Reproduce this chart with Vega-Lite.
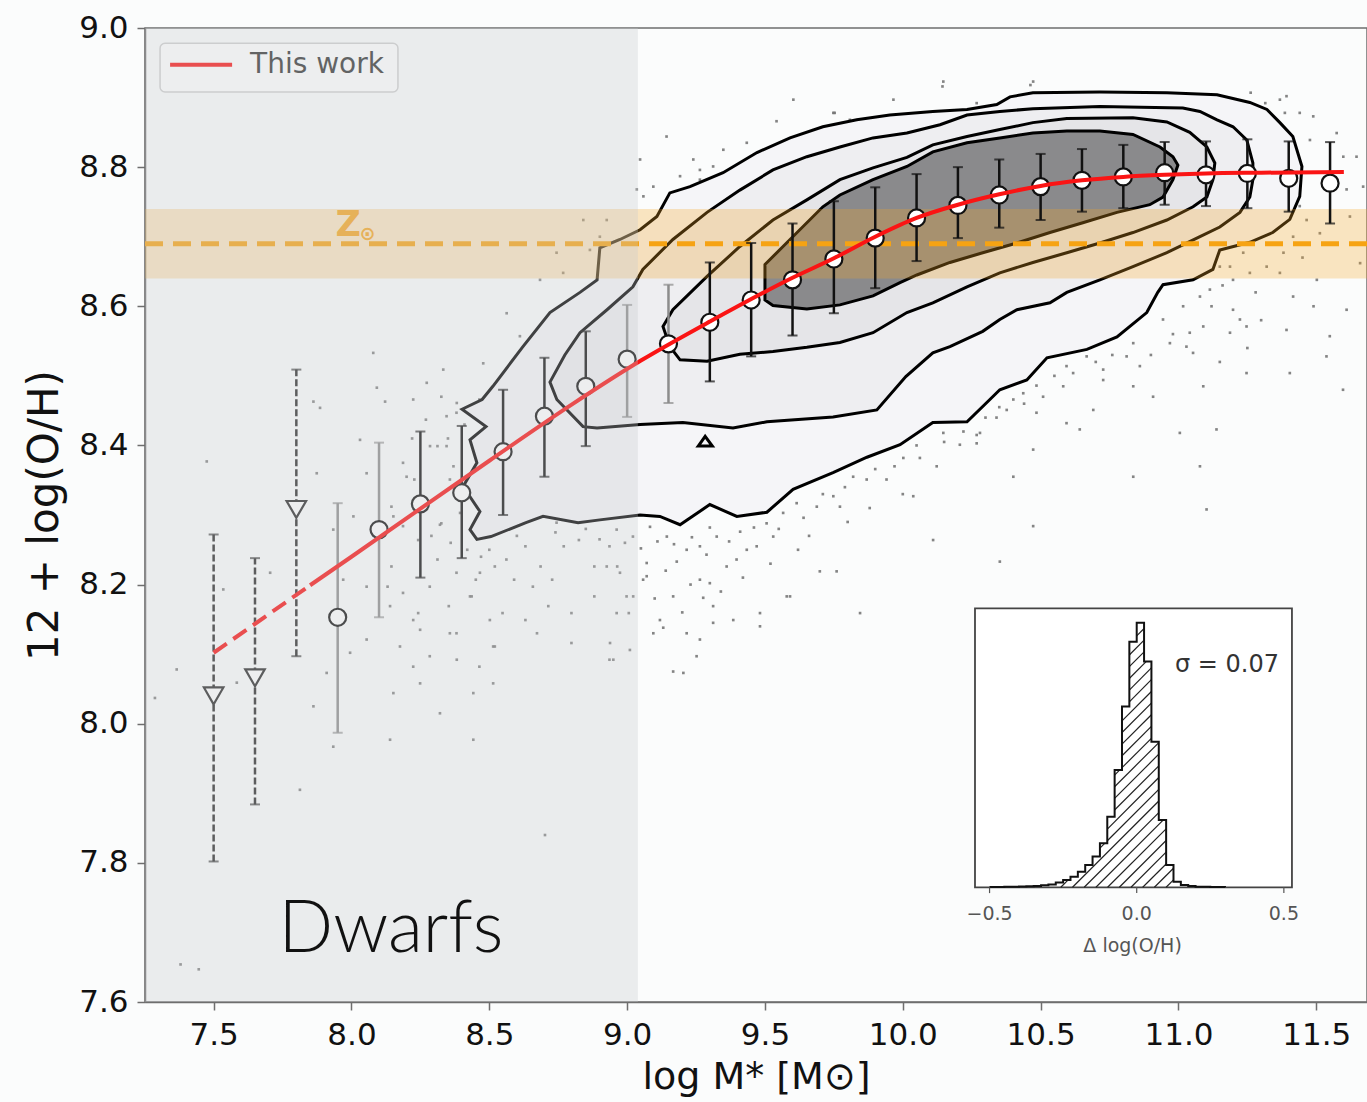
{
"$schema": "https://vega.github.io/schema/vega-lite/v6.json",
"width": 1222, "height": 974,
"autosize": {"type": "none"},
"padding": {"left": 145, "top": 28, "right": 0, "bottom": 100},
"background": "#fbfcfc",
"config": {
 "view": {"stroke": "#6e6e6e", "strokeWidth": 1.5},
 "axis": {"grid": false, "domainColor": "#6e6e6e", "domainWidth": 1.5, "tickColor": "#6e6e6e", "tickWidth": 1.5, "tickSize": 8, "labelFont": "DejaVu Sans", "labelFontSize": 31, "labelColor": "#111", "titleFont": "DejaVu Sans", "titleColor": "#111", "titleFontWeight": "normal"},
 "axisX": {"labelPadding": 10, "titleFontSize": 38, "titlePadding": 8},
 "axisY": {"labelPadding": 9, "titleFontSize": 42, "titlePadding": 12},
 "text": {"font": "DejaVu Sans"}
},
"datasets": {
 "dots": [
{"x":8.962,"y":8.279},{"x":9.021,"y":8.269},{"x":9.083,"y":8.283},{"x":9.144,"y":8.269},{"x":9.180,"y":8.233},{"x":9.216,"y":8.250},{"x":9.264,"y":8.255},{"x":9.288,"y":8.243},{"x":9.325,"y":8.269},{"x":9.361,"y":8.226},{"x":9.397,"y":8.236},{"x":9.434,"y":8.250},{"x":9.470,"y":8.255},{"x":9.506,"y":8.288},{"x":9.530,"y":8.269},{"x":9.566,"y":8.303},{"x":9.615,"y":8.317},{"x":9.688,"y":8.312},{"x":9.748,"y":8.327},{"x":9.772,"y":8.312},{"x":9.820,"y":8.355},{"x":9.869,"y":8.351},{"x":9.941,"y":8.351},{"x":10.002,"y":8.382},{"x":10.062,"y":8.382},{"x":10.123,"y":8.370},{"x":10.207,"y":8.401},{"x":10.268,"y":8.415},{"x":10.401,"y":8.466},{"x":10.110,"y":8.264},{"x":10.352,"y":8.233},{"x":9.699,"y":8.219},{"x":9.760,"y":8.219},{"x":9.591,"y":8.183},{"x":9.264,"y":8.207},{"x":9.300,"y":8.202},{"x":9.167,"y":8.183},{"x":9.276,"y":8.181},{"x":9.312,"y":8.169},{"x":9.385,"y":8.149},{"x":9.482,"y":8.159},{"x":9.482,"y":8.140},{"x":9.119,"y":8.149},{"x":9.131,"y":8.138},{"x":9.095,"y":8.130},{"x":9.216,"y":8.130},{"x":9.264,"y":8.121},{"x":9.312,"y":8.145},{"x":9.252,"y":8.097},{"x":9.204,"y":8.073},{"x":9.167,"y":8.075},{"x":9.845,"y":8.159},{"x":9.579,"y":8.183},{"x":9.022,"y":8.183},{"x":9.058,"y":8.207},{"x":9.071,"y":8.231},{"x":9.071,"y":8.212},{"x":8.926,"y":8.226},{"x":8.974,"y":8.217},{"x":8.998,"y":8.183},{"x":8.962,"y":8.159},{"x":9.010,"y":8.106},{"x":8.938,"y":8.116},{"x":8.950,"y":8.092},
{"x":9.05,"y":8.252},{"x":9.11,"y":8.262},{"x":9.17,"y":8.258},{"x":9.235,"y":8.268},{"x":9.30,"y":8.282},{"x":9.37,"y":8.262},{"x":9.41,"y":8.276},{"x":9.46,"y":8.282},{"x":9.55,"y":8.28},{"x":9.64,"y":8.296},{"x":9.71,"y":8.33},{"x":9.79,"y":8.34},{"x":9.90,"y":8.366},{"x":9.97,"y":8.37},{"x":10.05,"y":8.40},{"x":10.15,"y":8.405},{"x":10.30,"y":8.44},{"x":10.35,"y":8.455},{"x":9.14,"y":8.22},{"x":9.23,"y":8.2},{"x":9.34,"y":8.19},{"x":9.42,"y":8.21},{"x":9.52,"y":8.23},{"x":9.62,"y":8.25},{"x":9.66,"y":8.27},{"x":9.80,"y":8.29},{"x":9.88,"y":8.31},{"x":10.0,"y":8.33},{"x":9.1,"y":8.18},{"x":9.2,"y":8.16},
{"x":8.562,"y":8.236},{"x":8.631,"y":8.255},{"x":8.686,"y":8.226},{"x":8.770,"y":8.255},{"x":8.825,"y":8.264},{"x":8.881,"y":8.226},{"x":8.936,"y":8.255},{"x":8.992,"y":8.260},{"x":8.964,"y":8.226},{"x":8.728,"y":8.207},{"x":8.658,"y":8.197},{"x":8.590,"y":8.207},{"x":8.520,"y":8.226},{"x":8.451,"y":8.207},{"x":8.381,"y":8.217},{"x":8.312,"y":8.236},{"x":8.242,"y":8.264},{"x":8.284,"y":8.197},{"x":8.353,"y":8.169},{"x":8.436,"y":8.183},{"x":8.548,"y":8.159},{"x":8.631,"y":8.149},{"x":8.714,"y":8.169},{"x":8.798,"y":8.159},{"x":8.881,"y":8.183},{"x":9.006,"y":8.159},{"x":8.242,"y":8.159},{"x":8.187,"y":8.188},{"x":8.145,"y":8.226},{"x":8.131,"y":8.197},{"x":8.381,"y":8.130},{"x":8.520,"y":8.111},{"x":8.673,"y":8.130},{"x":8.798,"y":8.116},{"x":8.936,"y":8.092},{"x":8.464,"y":8.082},{"x":8.284,"y":8.097},{"x":8.326,"y":8.288},{"x":8.187,"y":8.284},{"x":8.145,"y":8.312},{"x":8.228,"y":8.351},{"x":8.187,"y":8.375},{"x":8.312,"y":8.399},{"x":8.270,"y":8.437},{"x":8.381,"y":8.447},{"x":8.464,"y":8.466},{"x":8.326,"y":8.470},
{"x":8.50,"y":8.25},{"x":8.60,"y":8.27},{"x":8.74,"y":8.275},{"x":8.85,"y":8.28},{"x":8.90,"y":8.265},{"x":8.42,"y":8.25},{"x":8.47,"y":8.24},{"x":8.36,"y":8.26},{"x":8.29,"y":8.27},{"x":8.40,"y":8.32},{"x":8.37,"y":8.37},{"x":8.35,"y":8.41},{"x":8.41,"y":8.43},{"x":8.27,"y":8.31},{"x":8.22,"y":8.41},
{"x":8.079,"y":8.533},{"x":7.862,"y":8.463},{"x":7.886,"y":8.454},{"x":7.475,"y":8.377},{"x":8.092,"y":8.483},{"x":8.122,"y":8.463},{"x":8.031,"y":8.408},{"x":8.224,"y":8.466},{"x":8.273,"y":8.490},{"x":8.333,"y":8.509},{"x":8.382,"y":8.461},{"x":8.285,"y":8.399},{"x":8.200,"y":8.355},{"x":8.152,"y":8.298},{"x":8.321,"y":8.286},{"x":8.055,"y":8.360},{"x":7.874,"y":8.360},{"x":8.007,"y":8.298},{"x":7.934,"y":8.279},{"x":7.970,"y":8.207},{"x":8.055,"y":8.197},{"x":8.140,"y":8.169},{"x":8.224,"y":8.149},{"x":8.249,"y":8.135},{"x":8.357,"y":8.130},{"x":8.176,"y":8.111},{"x":8.055,"y":8.121},{"x":7.995,"y":8.102},{"x":7.910,"y":8.073},{"x":7.705,"y":8.217},{"x":7.535,"y":8.193},{"x":7.584,"y":8.059},{"x":7.366,"y":8.078},{"x":7.287,"y":8.037},{"x":7.862,"y":8.025},{"x":7.934,"y":7.967},{"x":8.152,"y":8.044},{"x":8.249,"y":8.058},{"x":8.321,"y":8.015},{"x":8.442,"y":8.044},{"x":8.514,"y":8.058},{"x":8.382,"y":8.092},{"x":8.442,"y":7.977},{"x":8.140,"y":7.977},{"x":8.224,"y":8.082},{"x":8.514,"y":8.111},{"x":8.430,"y":8.183},{"x":8.502,"y":8.149},{"x":8.466,"y":8.217},
{"x":7.380,"y":7.654},{"x":7.446,"y":7.647},{"x":8.702,"y":7.840},{"x":7.813,"y":7.905},
{"x":11.368,"y":8.897},{"x":11.392,"y":8.902},{"x":11.440,"y":8.878},{"x":11.489,"y":8.873},{"x":11.477,"y":8.839},{"x":11.574,"y":8.849},{"x":11.646,"y":8.815},{"x":11.610,"y":8.768},{"x":11.670,"y":8.772},{"x":11.465,"y":8.724},{"x":11.440,"y":8.744},{"x":11.513,"y":8.705},{"x":11.416,"y":8.700},{"x":11.622,"y":8.729},{"x":11.659,"y":8.662},{"x":11.381,"y":8.677},{"x":11.320,"y":8.657},{"x":11.235,"y":8.677},{"x":11.187,"y":8.657},{"x":11.198,"y":8.638},{"x":11.150,"y":8.657},{"x":11.259,"y":8.648},{"x":11.368,"y":8.648},{"x":11.502,"y":8.638},{"x":11.114,"y":8.624},{"x":11.078,"y":8.614},{"x":11.198,"y":8.595},{"x":11.223,"y":8.581},{"x":11.416,"y":8.614},{"x":11.610,"y":8.595},{"x":11.017,"y":8.600},{"x":10.944,"y":8.581},{"x":11.041,"y":8.562},{"x":10.969,"y":8.547},{"x":11.029,"y":8.542},{"x":10.836,"y":8.547},{"x":10.812,"y":8.528},{"x":10.860,"y":8.514},{"x":10.727,"y":8.509},{"x":10.667,"y":8.528},{"x":10.594,"y":8.514},{"x":10.618,"y":8.504},{"x":11.053,"y":8.533},{"x":11.090,"y":8.571},{"x":11.187,"y":8.562},{"x":11.247,"y":8.571},{"x":11.392,"y":8.566},{"x":11.549,"y":8.557},{"x":11.537,"y":8.528},{"x":11.404,"y":8.504},{"x":11.247,"y":8.504},{"x":11.090,"y":8.485},{"x":10.908,"y":8.470},{"x":10.836,"y":8.485},{"x":10.727,"y":8.494},{"x":10.691,"y":8.451},{"x":10.582,"y":8.485},{"x":10.509,"y":8.470},{"x":10.485,"y":8.486},{"x":10.485,"y":8.447},{"x":10.377,"y":8.451},{"x":10.437,"y":8.475},{"x":10.280,"y":8.418},{"x":10.147,"y":8.418},{"x":10.268,"y":8.403},{"x":10.401,"y":8.355},{"x":10.473,"y":8.394},{"x":10.594,"y":8.432},{"x":10.642,"y":8.423},{"x":10.836,"y":8.355},{"x":11.005,"y":8.418},{"x":11.138,"y":8.423},{"x":11.078,"y":8.370},{"x":11.102,"y":8.308},{"x":10.473,"y":8.284},{"x":10.038,"y":8.327},{"x":11.597,"y":8.480},{"x":10.147,"y":8.923},{"x":10.473,"y":8.923},{"x":10.268,"y":8.892},
{"x":11.16,"y":8.63},{"x":11.12,"y":8.60},{"x":11.28,"y":8.62},{"x":11.33,"y":8.69},{"x":11.45,"y":8.67},{"x":11.55,"y":8.69},{"x":11.49,"y":8.60},{"x":11.30,"y":8.58},{"x":10.98,"y":8.56},{"x":10.90,"y":8.53},{"x":10.76,"y":8.53},{"x":10.70,"y":8.52},{"x":11.25,"y":8.54},{"x":11.15,"y":8.52},{"x":10.55,"y":8.50},{"x":10.44,"y":8.46},{"x":10.34,"y":8.44},{"x":10.22,"y":8.42},
{"x":9.143,"y":8.844},{"x":9.047,"y":8.811},{"x":9.059,"y":8.758},{"x":9.240,"y":8.811},{"x":9.264,"y":8.796},{"x":9.312,"y":8.801},{"x":9.349,"y":8.825},{"x":9.434,"y":8.835},{"x":9.542,"y":8.866},{"x":9.603,"y":8.897},{"x":9.748,"y":8.878},{"x":9.808,"y":8.868},{"x":9.264,"y":8.782},{"x":9.192,"y":8.787},{"x":9.095,"y":8.772},{"x":9.035,"y":8.768},{"x":8.926,"y":8.724},{"x":8.841,"y":8.724},{"x":8.901,"y":8.700},{"x":8.865,"y":8.681},{"x":8.744,"y":8.677},{"x":8.684,"y":8.638},{"x":8.768,"y":8.648},{"x":8.563,"y":8.590},{"x":8.611,"y":8.557},{"x":8.478,"y":8.518},{"x":8.345,"y":8.442},{"x":8.345,"y":8.399},{"x":8.357,"y":8.351},{"x":8.394,"y":8.303},{"x":8.744,"y":8.289},
{"x":9.753,"y":8.878},{"x":9.966,"y":8.897},{"x":10.144,"y":8.916},{"x":10.463,"y":8.918},{"x":11.262,"y":8.907},{"x":11.315,"y":8.892},{"x":11.386,"y":8.878},{"x":11.598,"y":8.815},{"x":10.291,"y":8.073}
 ],
 "contours": [
{"level":1,"i":1,"x":8.401,"y":8.452},{"level":1,"i":2,"x":8.474,"y":8.466},{"level":1,"i":3,"x":8.513,"y":8.485},{"level":1,"i":4,"x":8.622,"y":8.542},{"level":1,"i":5,"x":8.720,"y":8.591},{"level":1,"i":6,"x":8.829,"y":8.620},{"level":1,"i":7,"x":8.891,"y":8.638},{"level":1,"i":8,"x":8.901,"y":8.684},{"level":1,"i":9,"x":8.974,"y":8.696},{"level":1,"i":10,"x":9.047,"y":8.710},{"level":1,"i":11,"x":9.108,"y":8.729},{"level":1,"i":12,"x":9.155,"y":8.763},{"level":1,"i":13,"x":9.228,"y":8.772},{"level":1,"i":14,"x":9.348,"y":8.792},{"level":1,"i":15,"x":9.471,"y":8.821},{"level":1,"i":16,"x":9.591,"y":8.842},{"level":1,"i":17,"x":9.710,"y":8.858},{"level":1,"i":18,"x":9.833,"y":8.868},{"level":1,"i":19,"x":9.953,"y":8.875},{"level":1,"i":20,"x":10.109,"y":8.880},{"level":1,"i":21,"x":10.233,"y":8.883},{"level":1,"i":22,"x":10.341,"y":8.890},{"level":1,"i":23,"x":10.389,"y":8.901},{"level":1,"i":24,"x":10.472,"y":8.907},{"level":1,"i":25,"x":10.715,"y":8.908},{"level":1,"i":26,"x":10.958,"y":8.907},{"level":1,"i":27,"x":11.140,"y":8.904},{"level":1,"i":28,"x":11.259,"y":8.893},{"level":1,"i":29,"x":11.321,"y":8.883},{"level":1,"i":30,"x":11.368,"y":8.864},{"level":1,"i":31,"x":11.415,"y":8.844},{"level":1,"i":32,"x":11.448,"y":8.801},{"level":1,"i":33,"x":11.440,"y":8.758},{"level":1,"i":34,"x":11.404,"y":8.725},{"level":1,"i":35,"x":11.342,"y":8.706},{"level":1,"i":36,"x":11.259,"y":8.692},{"level":1,"i":37,"x":11.150,"y":8.681},{"level":1,"i":38,"x":11.125,"y":8.653},{"level":1,"i":39,"x":11.053,"y":8.638},{"level":1,"i":40,"x":10.944,"y":8.631},{"level":1,"i":41,"x":10.925,"y":8.620},{"level":1,"i":42,"x":10.885,"y":8.591},{"level":1,"i":43,"x":10.777,"y":8.556},{"level":1,"i":44,"x":10.668,"y":8.538},{"level":1,"i":45,"x":10.523,"y":8.526},{"level":1,"i":46,"x":10.450,"y":8.494},{"level":1,"i":47,"x":10.352,"y":8.480},{"level":1,"i":48,"x":10.316,"y":8.466},{"level":1,"i":49,"x":10.233,"y":8.434},{"level":1,"i":50,"x":10.109,"y":8.433},{"level":1,"i":51,"x":9.990,"y":8.401},{"level":1,"i":52,"x":9.870,"y":8.383},{"level":1,"i":53,"x":9.747,"y":8.361},{"level":1,"i":54,"x":9.602,"y":8.337},{"level":1,"i":55,"x":9.507,"y":8.304},{"level":1,"i":56,"x":9.398,"y":8.298},{"level":1,"i":57,"x":9.300,"y":8.315},{"level":1,"i":58,"x":9.192,"y":8.286},{"level":1,"i":59,"x":9.119,"y":8.298},{"level":1,"i":60,"x":9.047,"y":8.300},{"level":1,"i":61,"x":8.901,"y":8.293},{"level":1,"i":62,"x":8.822,"y":8.289},{"level":1,"i":63,"x":8.695,"y":8.298},{"level":1,"i":64,"x":8.633,"y":8.289},{"level":1,"i":65,"x":8.506,"y":8.269},{"level":1,"i":66,"x":8.455,"y":8.265},{"level":1,"i":67,"x":8.430,"y":8.279},{"level":1,"i":68,"x":8.466,"y":8.305},{"level":1,"i":69,"x":8.405,"y":8.341},{"level":1,"i":70,"x":8.455,"y":8.375},{"level":1,"i":71,"x":8.430,"y":8.408},{"level":1,"i":72,"x":8.488,"y":8.427},
{"level":2,"i":1,"x":8.720,"y":8.491},{"level":2,"i":2,"x":8.774,"y":8.530},{"level":2,"i":3,"x":8.829,"y":8.562},{"level":2,"i":4,"x":8.927,"y":8.595},{"level":2,"i":5,"x":9.021,"y":8.628},{"level":2,"i":6,"x":9.057,"y":8.653},{"level":2,"i":7,"x":9.166,"y":8.696},{"level":2,"i":8,"x":9.290,"y":8.735},{"level":2,"i":9,"x":9.409,"y":8.767},{"level":2,"i":10,"x":9.529,"y":8.796},{"level":2,"i":11,"x":9.652,"y":8.815},{"level":2,"i":12,"x":9.772,"y":8.829},{"level":2,"i":13,"x":9.892,"y":8.842},{"level":2,"i":14,"x":10.015,"y":8.849},{"level":2,"i":15,"x":10.135,"y":8.861},{"level":2,"i":16,"x":10.233,"y":8.875},{"level":2,"i":17,"x":10.352,"y":8.880},{"level":2,"i":18,"x":10.472,"y":8.884},{"level":2,"i":19,"x":10.715,"y":8.887},{"level":2,"i":20,"x":11.016,"y":8.885},{"level":2,"i":21,"x":11.078,"y":8.880},{"level":2,"i":22,"x":11.140,"y":8.868},{"level":2,"i":23,"x":11.198,"y":8.858},{"level":2,"i":24,"x":11.248,"y":8.839},{"level":2,"i":25,"x":11.270,"y":8.806},{"level":2,"i":26,"x":11.270,"y":8.782},{"level":2,"i":27,"x":11.259,"y":8.757},{"level":2,"i":28,"x":11.223,"y":8.735},{"level":2,"i":29,"x":11.150,"y":8.714},{"level":2,"i":30,"x":11.078,"y":8.700},{"level":2,"i":31,"x":10.958,"y":8.677},{"level":2,"i":32,"x":10.835,"y":8.657},{"level":2,"i":33,"x":10.715,"y":8.638},{"level":2,"i":34,"x":10.595,"y":8.620},{"level":2,"i":35,"x":10.534,"y":8.605},{"level":2,"i":36,"x":10.414,"y":8.595},{"level":2,"i":37,"x":10.352,"y":8.581},{"level":2,"i":38,"x":10.290,"y":8.564},{"level":2,"i":39,"x":10.171,"y":8.542},{"level":2,"i":40,"x":10.109,"y":8.533},{"level":2,"i":41,"x":10.011,"y":8.499},{"level":2,"i":42,"x":9.906,"y":8.451},{"level":2,"i":43,"x":9.747,"y":8.441},{"level":2,"i":44,"x":9.507,"y":8.434},{"level":2,"i":45,"x":9.384,"y":8.425},{"level":2,"i":46,"x":9.202,"y":8.433},{"level":2,"i":47,"x":9.047,"y":8.430},{"level":2,"i":48,"x":8.891,"y":8.425},{"level":2,"i":49,"x":8.840,"y":8.427},{"level":2,"i":50,"x":8.745,"y":8.466},
{"level":3,"i":1,"x":9.130,"y":8.571},{"level":3,"i":2,"x":9.166,"y":8.595},{"level":3,"i":3,"x":9.290,"y":8.643},{"level":3,"i":4,"x":9.409,"y":8.686},{"level":3,"i":5,"x":9.529,"y":8.724},{"level":3,"i":6,"x":9.652,"y":8.753},{"level":3,"i":7,"x":9.772,"y":8.782},{"level":3,"i":8,"x":9.892,"y":8.799},{"level":3,"i":9,"x":10.015,"y":8.814},{"level":3,"i":10,"x":10.109,"y":8.832},{"level":3,"i":11,"x":10.233,"y":8.844},{"level":3,"i":12,"x":10.352,"y":8.854},{"level":3,"i":13,"x":10.472,"y":8.864},{"level":3,"i":14,"x":10.595,"y":8.870},{"level":3,"i":15,"x":10.835,"y":8.871},{"level":3,"i":16,"x":10.958,"y":8.865},{"level":3,"i":17,"x":11.041,"y":8.850},{"level":3,"i":18,"x":11.103,"y":8.829},{"level":3,"i":19,"x":11.132,"y":8.806},{"level":3,"i":20,"x":11.125,"y":8.782},{"level":3,"i":21,"x":11.103,"y":8.757},{"level":3,"i":22,"x":11.053,"y":8.743},{"level":3,"i":23,"x":10.958,"y":8.724},{"level":3,"i":24,"x":10.835,"y":8.706},{"level":3,"i":25,"x":10.715,"y":8.691},{"level":3,"i":26,"x":10.595,"y":8.677},{"level":3,"i":27,"x":10.472,"y":8.663},{"level":3,"i":28,"x":10.352,"y":8.648},{"level":3,"i":29,"x":10.233,"y":8.628},{"level":3,"i":30,"x":10.109,"y":8.605},{"level":3,"i":31,"x":10.015,"y":8.591},{"level":3,"i":32,"x":9.892,"y":8.562},{"level":3,"i":33,"x":9.772,"y":8.548},{"level":3,"i":34,"x":9.652,"y":8.541},{"level":3,"i":35,"x":9.529,"y":8.535},{"level":3,"i":36,"x":9.409,"y":8.531},{"level":3,"i":37,"x":9.290,"y":8.521},{"level":3,"i":38,"x":9.192,"y":8.523},{"level":3,"i":39,"x":9.155,"y":8.542},
{"level":4,"i":1,"x":9.500,"y":8.660},{"level":4,"i":2,"x":9.591,"y":8.696},{"level":4,"i":3,"x":9.710,"y":8.743},{"level":4,"i":4,"x":9.772,"y":8.760},{"level":4,"i":5,"x":9.892,"y":8.782},{"level":4,"i":6,"x":10.015,"y":8.801},{"level":4,"i":7,"x":10.109,"y":8.822},{"level":4,"i":8,"x":10.233,"y":8.835},{"level":4,"i":9,"x":10.352,"y":8.842},{"level":4,"i":10,"x":10.472,"y":8.849},{"level":4,"i":11,"x":10.595,"y":8.852},{"level":4,"i":12,"x":10.715,"y":8.852},{"level":4,"i":13,"x":10.835,"y":8.847},{"level":4,"i":14,"x":10.933,"y":8.829},{"level":4,"i":15,"x":10.980,"y":8.815},{"level":4,"i":16,"x":10.998,"y":8.803},{"level":4,"i":17,"x":10.980,"y":8.782},{"level":4,"i":18,"x":10.944,"y":8.757},{"level":4,"i":19,"x":10.896,"y":8.746},{"level":4,"i":20,"x":10.777,"y":8.735},{"level":4,"i":21,"x":10.653,"y":8.720},{"level":4,"i":22,"x":10.534,"y":8.706},{"level":4,"i":23,"x":10.414,"y":8.691},{"level":4,"i":24,"x":10.290,"y":8.677},{"level":4,"i":25,"x":10.171,"y":8.663},{"level":4,"i":26,"x":10.051,"y":8.645},{"level":4,"i":27,"x":9.990,"y":8.634},{"level":4,"i":28,"x":9.892,"y":8.615},{"level":4,"i":29,"x":9.772,"y":8.602},{"level":4,"i":30,"x":9.652,"y":8.596},{"level":4,"i":31,"x":9.529,"y":8.601},{"level":4,"i":32,"x":9.500,"y":8.609},
{"level":5,"i":1,"x":9.258,"y":8.399},{"level":5,"i":2,"x":9.283,"y":8.413},{"level":5,"i":3,"x":9.309,"y":8.399}
 ],
 "bins": [
{"x":7.5,"y":8.040,"lo":7.802,"hi":8.272,"type":"limit"},
{"x":7.65,"y":8.066,"lo":7.884,"hi":8.238,"type":"limit"},
{"x":7.8,"y":8.308,"lo":8.097,"hi":8.509,"type":"limit"},
{"x":7.95,"y":8.153,"lo":7.987,"hi":8.317,"type":"sparse"},
{"x":8.1,"y":8.279,"lo":8.153,"hi":8.404,"type":"sparse"},
{"x":8.25,"y":8.316,"lo":8.210,"hi":8.420,"type":"main"},
{"x":8.4,"y":8.332,"lo":8.238,"hi":8.428,"type":"main"},
{"x":8.55,"y":8.391,"lo":8.300,"hi":8.480,"type":"main"},
{"x":8.7,"y":8.442,"lo":8.355,"hi":8.526,"type":"main"},
{"x":8.85,"y":8.485,"lo":8.399,"hi":8.564,"type":"main"},
{"x":9.0,"y":8.524,"lo":8.441,"hi":8.602,"type":"sparse"},
{"x":9.15,"y":8.546,"lo":8.461,"hi":8.631,"type":"sparse"},
{"x":9.3,"y":8.577,"lo":8.492,"hi":8.663,"type":"main"},
{"x":9.45,"y":8.609,"lo":8.528,"hi":8.691,"type":"main"},
{"x":9.6,"y":8.638,"lo":8.558,"hi":8.719,"type":"main"},
{"x":9.75,"y":8.668,"lo":8.590,"hi":8.751,"type":"main"},
{"x":9.9,"y":8.698,"lo":8.626,"hi":8.771,"type":"main"},
{"x":10.05,"y":8.727,"lo":8.665,"hi":8.790,"type":"main"},
{"x":10.2,"y":8.745,"lo":8.698,"hi":8.800,"type":"main"},
{"x":10.35,"y":8.760,"lo":8.713,"hi":8.811,"type":"main"},
{"x":10.5,"y":8.772,"lo":8.724,"hi":8.819,"type":"main"},
{"x":10.65,"y":8.781,"lo":8.736,"hi":8.826,"type":"main"},
{"x":10.8,"y":8.786,"lo":8.741,"hi":8.832,"type":"main"},
{"x":10.95,"y":8.792,"lo":8.746,"hi":8.836,"type":"main"},
{"x":11.1,"y":8.789,"lo":8.744,"hi":8.837,"type":"main"},
{"x":11.25,"y":8.791,"lo":8.741,"hi":8.840,"type":"main"},
{"x":11.4,"y":8.784,"lo":8.736,"hi":8.837,"type":"main"},
{"x":11.55,"y":8.777,"lo":8.719,"hi":8.836,"type":"main"}
 ],
 "fit": [
{"x":7.5,"y":8.102,"part":"extrapolated"},{"x":7.85,"y":8.199,"part":"extrapolated"},
{"x":7.85,"y":8.199,"part":"fit"},{"x":8.0,"y":8.240,"part":"fit"},{"x":8.5,"y":8.378,"part":"fit"},{"x":8.8,"y":8.459,"part":"fit"},{"x":9.05,"y":8.522,"part":"fit"},{"x":9.3,"y":8.578,"part":"fit"},{"x":9.6,"y":8.641,"part":"fit"},{"x":9.75,"y":8.669,"part":"fit"},{"x":9.9,"y":8.700,"part":"fit"},{"x":10.05,"y":8.727,"part":"fit"},{"x":10.2,"y":8.746,"part":"fit"},{"x":10.35,"y":8.761,"part":"fit"},{"x":10.5,"y":8.773,"part":"fit"},{"x":10.65,"y":8.781,"part":"fit"},{"x":10.8,"y":8.786,"part":"fit"},{"x":10.95,"y":8.789,"part":"fit"},{"x":11.1,"y":8.791,"part":"fit"},{"x":11.3,"y":8.792,"part":"fit"},{"x":11.6,"y":8.793,"part":"fit"}
 ],
 "hist": [
{"d":-0.5,"h":0.001},{"d":-0.45,"h":0.002},{"d":-0.4,"h":0.003},{"d":-0.375,"h":0.004},{"d":-0.35,"h":0.005},{"d":-0.325,"h":0.008},{"d":-0.3,"h":0.011},{"d":-0.275,"h":0.018},{"d":-0.25,"h":0.028},{"d":-0.225,"h":0.04},{"d":-0.2,"h":0.059},{"d":-0.175,"h":0.084},{"d":-0.15,"h":0.116},{"d":-0.125,"h":0.166},{"d":-0.1,"h":0.267},{"d":-0.075,"h":0.443},{"d":-0.05,"h":0.683},{"d":-0.025,"h":0.928},{"d":0,"h":1},{"d":0.025,"h":0.853},{"d":0.05,"h":0.55},{"d":0.075,"h":0.254},{"d":0.1,"h":0.084},{"d":0.125,"h":0.021},{"d":0.15,"h":0.009},{"d":0.175,"h":0.005},{"d":0.2,"h":0.002},{"d":0.25,"h":0.001},{"d":0.3,"h":0}
 ],
 "hatch": [
{"d":0.0999,"h":0,"d2":0.125,"h2":0.028},{"d":0.0601,"h":0,"d2":0.125,"h2":0.072},{"d":0.0204,"h":0,"d2":0.0999,"h2":0.088},{"d":-0.0194,"h":0,"d2":0.0999,"h2":0.133},{"d":-0.0591,"h":0,"d2":0.0999,"h2":0.177},{"d":-0.0989,"h":0,"d2":0.0999,"h2":0.221},{"d":-0.1386,"h":0,"d2":0.0897,"h2":0.254},{"d":-0.1784,"h":0,"d2":0.0751,"h2":0.282},{"d":-0.2181,"h":0,"d2":0.0751,"h2":0.326},{"d":-0.2579,"h":0,"d2":-0.2328,"h2":0.028},{"d":-0.125,"h":0.148,"d2":-0.1087,"h2":0.166},{"d":-0.0999,"h":0.176,"d2":0.0751,"h2":0.37},{"d":-0.0999,"h":0.22,"d2":0.0751,"h2":0.415},{"d":-0.0751,"h":0.292,"d2":0.0751,"h2":0.459},{"d":-0.0751,"h":0.336,"d2":0.0751,"h2":0.503},{"d":-0.0751,"h":0.38,"d2":0.0751,"h2":0.547},{"d":-0.0751,"h":0.424,"d2":-0.0584,"h2":0.443},{"d":-0.0499,"h":0.452,"d2":0.0499,"h2":0.563},{"d":-0.0499,"h":0.497,"d2":0.0499,"h2":0.608},{"d":-0.0499,"h":0.541,"d2":0.0499,"h2":0.652},{"d":-0.0499,"h":0.585,"d2":0.0499,"h2":0.696},{"d":-0.0499,"h":0.629,"d2":0.0499,"h2":0.74},{"d":-0.0251,"h":0.701,"d2":0.0499,"h2":0.785},{"d":-0.0251,"h":0.745,"d2":0.0499,"h2":0.829},{"d":-0.0251,"h":0.789,"d2":0.0319,"h2":0.853},{"d":-0.0251,"h":0.834,"d2":0.0251,"h2":0.89},{"d":-0.0251,"h":0.878,"d2":0.0251,"h2":0.934},{"d":0,"h":0.95,"d2":0.0251,"h2":0.978}
 ]
},
"layer": [
 {"layer": [
  {"data": {"name": "dots"}, "mark": {"type": "square", "size": 7, "color": "#6f6f6f", "opacity": 0.85},
   "encoding": {
    "x": {"field": "x", "type": "quantitative", "scale": {"domain": [7.251, 11.684], "nice": false, "zero": false}, "axis": {"values": [7.5,8,8.5,9,9.5,10,10.5,11,11.5], "format": ".1f"}, "title": "log M* [M⊙]"},
    "y": {"field": "y", "type": "quantitative", "scale": {"domain": [7.6, 9.0], "nice": false, "zero": false}, "axis": {"values": [7.6,7.8,8,8.2,8.4,8.6,8.8,9], "format": ".1f"}, "title": "12 + log(O/H)"}}},
  {"data": {"name": "contours"}, "transform": [{"filter": "datum.level == 1"}], "mark": {"type": "line", "interpolate": "linear-closed", "fill": "#f5f5f8", "stroke": "#000", "strokeWidth": 3},
   "encoding": {
    "x": {"field": "x", "type": "quantitative", "scale": {"domain": [7.251, 11.684], "nice": false, "zero": false}, "title": "log M* [M⊙]"},
    "y": {"field": "y", "type": "quantitative", "scale": {"domain": [7.6, 9.0], "nice": false, "zero": false}, "title": "12 + log(O/H)"},
    "order": {"field": "i", "type": "quantitative"}}},
  {"data": {"name": "contours"}, "transform": [{"filter": "datum.level == 2"}], "mark": {"type": "line", "interpolate": "linear-closed", "fill": "#eeeef1", "stroke": "#000", "strokeWidth": 3},
   "encoding": {
    "x": {"field": "x", "type": "quantitative", "scale": {"domain": [7.251, 11.684], "nice": false, "zero": false}, "title": "log M* [M⊙]"},
    "y": {"field": "y", "type": "quantitative", "scale": {"domain": [7.6, 9.0], "nice": false, "zero": false}, "title": "12 + log(O/H)"},
    "order": {"field": "i", "type": "quantitative"}}},
  {"data": {"name": "contours"}, "transform": [{"filter": "datum.level == 3"}], "mark": {"type": "line", "interpolate": "linear-closed", "fill": "#e5e5e8", "stroke": "#000", "strokeWidth": 3},
   "encoding": {
    "x": {"field": "x", "type": "quantitative", "scale": {"domain": [7.251, 11.684], "nice": false, "zero": false}, "title": "log M* [M⊙]"},
    "y": {"field": "y", "type": "quantitative", "scale": {"domain": [7.6, 9.0], "nice": false, "zero": false}, "title": "12 + log(O/H)"},
    "order": {"field": "i", "type": "quantitative"}}},
  {"data": {"name": "contours"}, "transform": [{"filter": "datum.level == 4"}], "mark": {"type": "line", "interpolate": "linear-closed", "fill": "#8a8a8c", "stroke": "#000", "strokeWidth": 3},
   "encoding": {
    "x": {"field": "x", "type": "quantitative", "scale": {"domain": [7.251, 11.684], "nice": false, "zero": false}, "title": "log M* [M⊙]"},
    "y": {"field": "y", "type": "quantitative", "scale": {"domain": [7.6, 9.0], "nice": false, "zero": false}, "title": "12 + log(O/H)"},
    "order": {"field": "i", "type": "quantitative"}}},
  {"data": {"name": "contours"}, "transform": [{"filter": "datum.level == 5"}], "mark": {"type": "line", "interpolate": "linear-closed", "fill": "#f5f5f8", "stroke": "#000", "strokeWidth": 3},
   "encoding": {
    "x": {"field": "x", "type": "quantitative", "scale": {"domain": [7.251, 11.684], "nice": false, "zero": false}, "title": "log M* [M⊙]"},
    "y": {"field": "y", "type": "quantitative", "scale": {"domain": [7.6, 9.0], "nice": false, "zero": false}, "title": "12 + log(O/H)"},
    "order": {"field": "i", "type": "quantitative"}}},
  {"data": {"values": [{"y": 8.64, "y2": 8.74}]}, "mark": {"type": "rect", "color": "#f5a623", "opacity": 0.28},
   "encoding": {
    "y": {"field": "y", "type": "quantitative", "scale": {"domain": [7.6, 9.0], "nice": false, "zero": false}, "title": "12 + log(O/H)"},
    "y2": {"field": "y2"}}},
  {"data": {"values": [{"y": 8.69}]}, "mark": {"type": "rule", "color": "#f6a313", "strokeWidth": 5, "strokeDash": [18, 10]},
   "encoding": {
    "y": {"field": "y", "type": "quantitative", "scale": {"domain": [7.6, 9.0], "nice": false, "zero": false}, "title": "12 + log(O/H)"}}},
  {"data": {"name": "bins"}, "transform": [{"filter": "datum.type != 'limit'"}], "mark": {"type": "rule", "strokeWidth": 2.5},
   "encoding": {
    "x": {"field": "x", "type": "quantitative", "scale": {"domain": [7.251, 11.684], "nice": false, "zero": false}, "title": "log M* [M⊙]"},
    "y": {"field": "lo", "type": "quantitative", "scale": {"domain": [7.6, 9.0], "nice": false, "zero": false}, "title": "12 + log(O/H)"},
    "y2": {"field": "hi"},
    "color": {"field": "type", "type": "nominal", "scale": {"domain": ["main", "sparse", "limit"], "range": ["#111111", "#8c8c8c", "#2a2a2a"]}, "legend": null}}},
  {"data": {"name": "bins"}, "transform": [{"filter": "datum.type == 'limit'"}], "mark": {"type": "rule", "strokeWidth": 2.5, "strokeDash": [7, 3], "color": "#2a2a2a"},
   "encoding": {
    "x": {"field": "x", "type": "quantitative", "scale": {"domain": [7.251, 11.684], "nice": false, "zero": false}, "title": "log M* [M⊙]"},
    "y": {"field": "lo", "type": "quantitative", "scale": {"domain": [7.6, 9.0], "nice": false, "zero": false}, "title": "12 + log(O/H)"},
    "y2": {"field": "hi"}}},
  {"data": {"name": "bins"}, "mark": {"type": "tick", "orient": "horizontal", "size": 10, "thickness": 2},
   "encoding": {
    "x": {"field": "x", "type": "quantitative", "scale": {"domain": [7.251, 11.684], "nice": false, "zero": false}, "title": "log M* [M⊙]"},
    "y": {"field": "lo", "type": "quantitative", "scale": {"domain": [7.6, 9.0], "nice": false, "zero": false}, "title": "12 + log(O/H)"},
    "color": {"field": "type", "type": "nominal", "scale": {"domain": ["main", "sparse", "limit"], "range": ["#111111", "#8c8c8c", "#2a2a2a"]}, "legend": null}}},
  {"data": {"name": "bins"}, "mark": {"type": "tick", "orient": "horizontal", "size": 10, "thickness": 2},
   "encoding": {
    "x": {"field": "x", "type": "quantitative", "scale": {"domain": [7.251, 11.684], "nice": false, "zero": false}, "title": "log M* [M⊙]"},
    "y": {"field": "hi", "type": "quantitative", "scale": {"domain": [7.6, 9.0], "nice": false, "zero": false}, "title": "12 + log(O/H)"},
    "color": {"field": "type", "type": "nominal", "scale": {"domain": ["main", "sparse", "limit"], "range": ["#111111", "#8c8c8c", "#2a2a2a"]}, "legend": null}}},
  {"data": {"name": "bins"}, "transform": [{"filter": "datum.type != 'limit'"}], "mark": {"type": "point", "shape": "circle", "filled": true, "fill": "#ffffff", "stroke": "#111111", "strokeWidth": 2.2, "size": 290, "opacity": 1},
   "encoding": {
    "x": {"field": "x", "type": "quantitative", "scale": {"domain": [7.251, 11.684], "nice": false, "zero": false}, "title": "log M* [M⊙]"},
    "y": {"field": "y", "type": "quantitative", "scale": {"domain": [7.6, 9.0], "nice": false, "zero": false}, "title": "12 + log(O/H)"}}},
  {"data": {"name": "bins"}, "transform": [{"filter": "datum.type == 'limit'"}], "mark": {"type": "point", "shape": "triangle-down", "filled": true, "fill": "#ffffff", "stroke": "#2a2a2a", "strokeWidth": 2.2, "size": 380, "opacity": 1},
   "encoding": {
    "x": {"field": "x", "type": "quantitative", "scale": {"domain": [7.251, 11.684], "nice": false, "zero": false}, "title": "log M* [M⊙]"},
    "y": {"field": "y", "type": "quantitative", "scale": {"domain": [7.6, 9.0], "nice": false, "zero": false}, "title": "12 + log(O/H)"}}},
  {"data": {"name": "fit"}, "transform": [{"filter": "datum.part == 'fit'"}], "mark": {"type": "line", "color": "#fa1414", "strokeWidth": 4, "interpolate": "monotone"},
   "encoding": {
    "x": {"field": "x", "type": "quantitative", "scale": {"domain": [7.251, 11.684], "nice": false, "zero": false}, "title": "log M* [M⊙]"},
    "y": {"field": "y", "type": "quantitative", "scale": {"domain": [7.6, 9.0], "nice": false, "zero": false}, "title": "12 + log(O/H)"}}},
  {"data": {"name": "fit"}, "transform": [{"filter": "datum.part == 'extrapolated'"}], "mark": {"type": "line", "color": "#fa1414", "strokeWidth": 4, "strokeDash": [16, 8]},
   "encoding": {
    "x": {"field": "x", "type": "quantitative", "scale": {"domain": [7.251, 11.684], "nice": false, "zero": false}, "title": "log M* [M⊙]"},
    "y": {"field": "y", "type": "quantitative", "scale": {"domain": [7.6, 9.0], "nice": false, "zero": false}, "title": "12 + log(O/H)"}}},
  {"data": {"values": [{"x": 7.988, "y": 8.701, "label": "Z"}]}, "mark": {"type": "text", "fontSize": 35, "fontWeight": "bold", "color": "#f5a623", "align": "center", "baseline": "alphabetic"},
   "encoding": {
    "x": {"field": "x", "type": "quantitative", "scale": {"domain": [7.251, 11.684], "nice": false, "zero": false}, "title": "log M* [M⊙]"},
    "y": {"field": "y", "type": "quantitative", "scale": {"domain": [7.6, 9.0], "nice": false, "zero": false}, "title": "12 + log(O/H)"},
    "text": {"field": "label"}}},
  {"data": {"values": [{"x": 8.058, "y": 8.695, "label": "⊙"}]}, "mark": {"type": "text", "fontSize": 19, "fontWeight": "bold", "color": "#f5a623", "align": "center", "baseline": "alphabetic"},
   "encoding": {
    "x": {"field": "x", "type": "quantitative", "scale": {"domain": [7.251, 11.684], "nice": false, "zero": false}, "title": "log M* [M⊙]"},
    "y": {"field": "y", "type": "quantitative", "scale": {"domain": [7.6, 9.0], "nice": false, "zero": false}, "title": "12 + log(O/H)"},
    "text": {"field": "label"}}},
  {"data": {"values": [{"x": 7.3056, "x2": 8.1686, "y": 8.908, "y2": 8.978}]}, "mark": {"type": "rect", "fill": "#ffffff", "stroke": "#cfcfcf", "strokeWidth": 1.5, "cornerRadius": 5},
   "encoding": {
    "x": {"field": "x", "type": "quantitative", "scale": {"domain": [7.251, 11.684], "nice": false, "zero": false}, "title": "log M* [M⊙]"},
    "x2": {"field": "x2"},
    "y": {"field": "y", "type": "quantitative", "scale": {"domain": [7.6, 9.0], "nice": false, "zero": false}, "title": "12 + log(O/H)"},
    "y2": {"field": "y2"}}},
  {"data": {"values": [{"x": 7.342, "x2": 7.567, "y": 8.947}]}, "mark": {"type": "rule", "color": "#fa1414", "strokeWidth": 4},
   "encoding": {
    "x": {"field": "x", "type": "quantitative", "scale": {"domain": [7.251, 11.684], "nice": false, "zero": false}, "title": "log M* [M⊙]"},
    "x2": {"field": "x2"},
    "y": {"field": "y", "type": "quantitative", "scale": {"domain": [7.6, 9.0], "nice": false, "zero": false}, "title": "12 + log(O/H)"}}},
  {"data": {"values": [{"x": 7.632, "y": 8.947, "label": "This work"}]}, "mark": {"type": "text", "fontSize": 28, "color": "#333333", "align": "left", "baseline": "middle"},
   "encoding": {
    "x": {"field": "x", "type": "quantitative", "scale": {"domain": [7.251, 11.684], "nice": false, "zero": false}, "title": "log M* [M⊙]"},
    "y": {"field": "y", "type": "quantitative", "scale": {"domain": [7.6, 9.0], "nice": false, "zero": false}, "title": "12 + log(O/H)"},
    "text": {"field": "label"}}},
  {"data": {"values": [{"x": 7.251, "x2": 9.039}]}, "mark": {"type": "rect", "color": "#c8cacc", "opacity": 0.32},
   "encoding": {
    "x": {"field": "x", "type": "quantitative", "scale": {"domain": [7.251, 11.684], "nice": false, "zero": false}, "title": "log M* [M⊙]"},
    "x2": {"field": "x2"}}},
  {"data": {"values": [{"x": 8.143, "y": 7.672, "label": "Dwarfs"}]}, "mark": {"type": "text", "font": "Lato", "fontWeight": 300, "fontSize": 72, "color": "#111111", "align": "center", "baseline": "alphabetic"},
   "encoding": {
    "x": {"field": "x", "type": "quantitative", "scale": {"domain": [7.251, 11.684], "nice": false, "zero": false}, "title": "log M* [M⊙]"},
    "y": {"field": "y", "type": "quantitative", "scale": {"domain": [7.6, 9.0], "nice": false, "zero": false}, "title": "12 + log(O/H)"},
    "text": {"field": "label"}}}
 ]},
 {"layer": [
  {"data": {"values": [{"d": -0.5495, "d2": 0.5275, "h": 0, "h2": 1.0544}]}, "mark": {"type": "rect", "fill": "#ffffff", "stroke": "#444444", "strokeWidth": 1.8},
   "encoding": {
    "x": {"field": "d", "type": "quantitative", "scale": {"domain": [-3.3697, 0.7825], "nice": false, "zero": false}, "axis": null},
    "x2": {"field": "d2"},
    "y": {"field": "h", "type": "quantitative", "scale": {"domain": [-0.4335, 3.2475], "nice": false, "zero": false}, "axis": null},
    "y2": {"field": "h2"}}},
  {"data": {"name": "hatch"}, "mark": {"type": "rule", "color": "#222222", "strokeWidth": 1.2},
   "encoding": {
    "x": {"field": "d", "type": "quantitative", "scale": {"domain": [-3.3697, 0.7825], "nice": false, "zero": false}, "axis": null},
    "x2": {"field": "d2"},
    "y": {"field": "h", "type": "quantitative", "scale": {"domain": [-0.4335, 3.2475], "nice": false, "zero": false}, "axis": null},
    "y2": {"field": "h2"}}},
  {"data": {"name": "hist"}, "mark": {"type": "line", "interpolate": "step-after", "color": "#111111", "strokeWidth": 2},
   "encoding": {
    "x": {"field": "d", "type": "quantitative", "scale": {"domain": [-3.3697, 0.7825], "nice": false, "zero": false}, "axis": null},
    "y": {"field": "h", "type": "quantitative", "scale": {"domain": [-0.4335, 3.2475], "nice": false, "zero": false}, "axis": null}}},
  {"data": {"values": [{"d": -0.5, "h": 0, "h2": -0.022}, {"d": 0, "h": 0, "h2": -0.022}, {"d": 0.5, "h": 0, "h2": -0.022}]}, "mark": {"type": "rule", "color": "#555555", "strokeWidth": 1.2},
   "encoding": {
    "x": {"field": "d", "type": "quantitative", "scale": {"domain": [-3.3697, 0.7825], "nice": false, "zero": false}, "axis": null},
    "y": {"field": "h", "type": "quantitative", "scale": {"domain": [-0.4335, 3.2475], "nice": false, "zero": false}, "axis": null},
    "y2": {"field": "h2"}}},
  {"data": {"values": [{"d": -0.5, "h": -0.1236, "label": "−0.5"}, {"d": 0, "h": -0.1236, "label": "0.0"}, {"d": 0.5, "h": -0.1236, "label": "0.5"}, {"d": -0.014, "h": -0.2434, "label": "Δ log(O/H)"}]}, "mark": {"type": "text", "fontSize": 19, "color": "#555555", "align": "center", "baseline": "alphabetic"},
   "encoding": {
    "x": {"field": "d", "type": "quantitative", "scale": {"domain": [-3.3697, 0.7825], "nice": false, "zero": false}, "axis": null},
    "y": {"field": "h", "type": "quantitative", "scale": {"domain": [-0.4335, 3.2475], "nice": false, "zero": false}, "axis": null},
    "text": {"field": "label"}}},
  {"data": {"values": [{"d": 0.13, "h": 0.8148, "label": "σ = 0.07"}]}, "mark": {"type": "text", "fontSize": 24, "color": "#333333", "align": "left", "baseline": "alphabetic"},
   "encoding": {
    "x": {"field": "d", "type": "quantitative", "scale": {"domain": [-3.3697, 0.7825], "nice": false, "zero": false}, "axis": null},
    "y": {"field": "h", "type": "quantitative", "scale": {"domain": [-0.4335, 3.2475], "nice": false, "zero": false}, "axis": null},
    "text": {"field": "label"}}}
 ]}
],
"resolve": {"scale": {"x": "independent", "y": "independent"}, "axis": {"x": "independent", "y": "independent"}}
}
